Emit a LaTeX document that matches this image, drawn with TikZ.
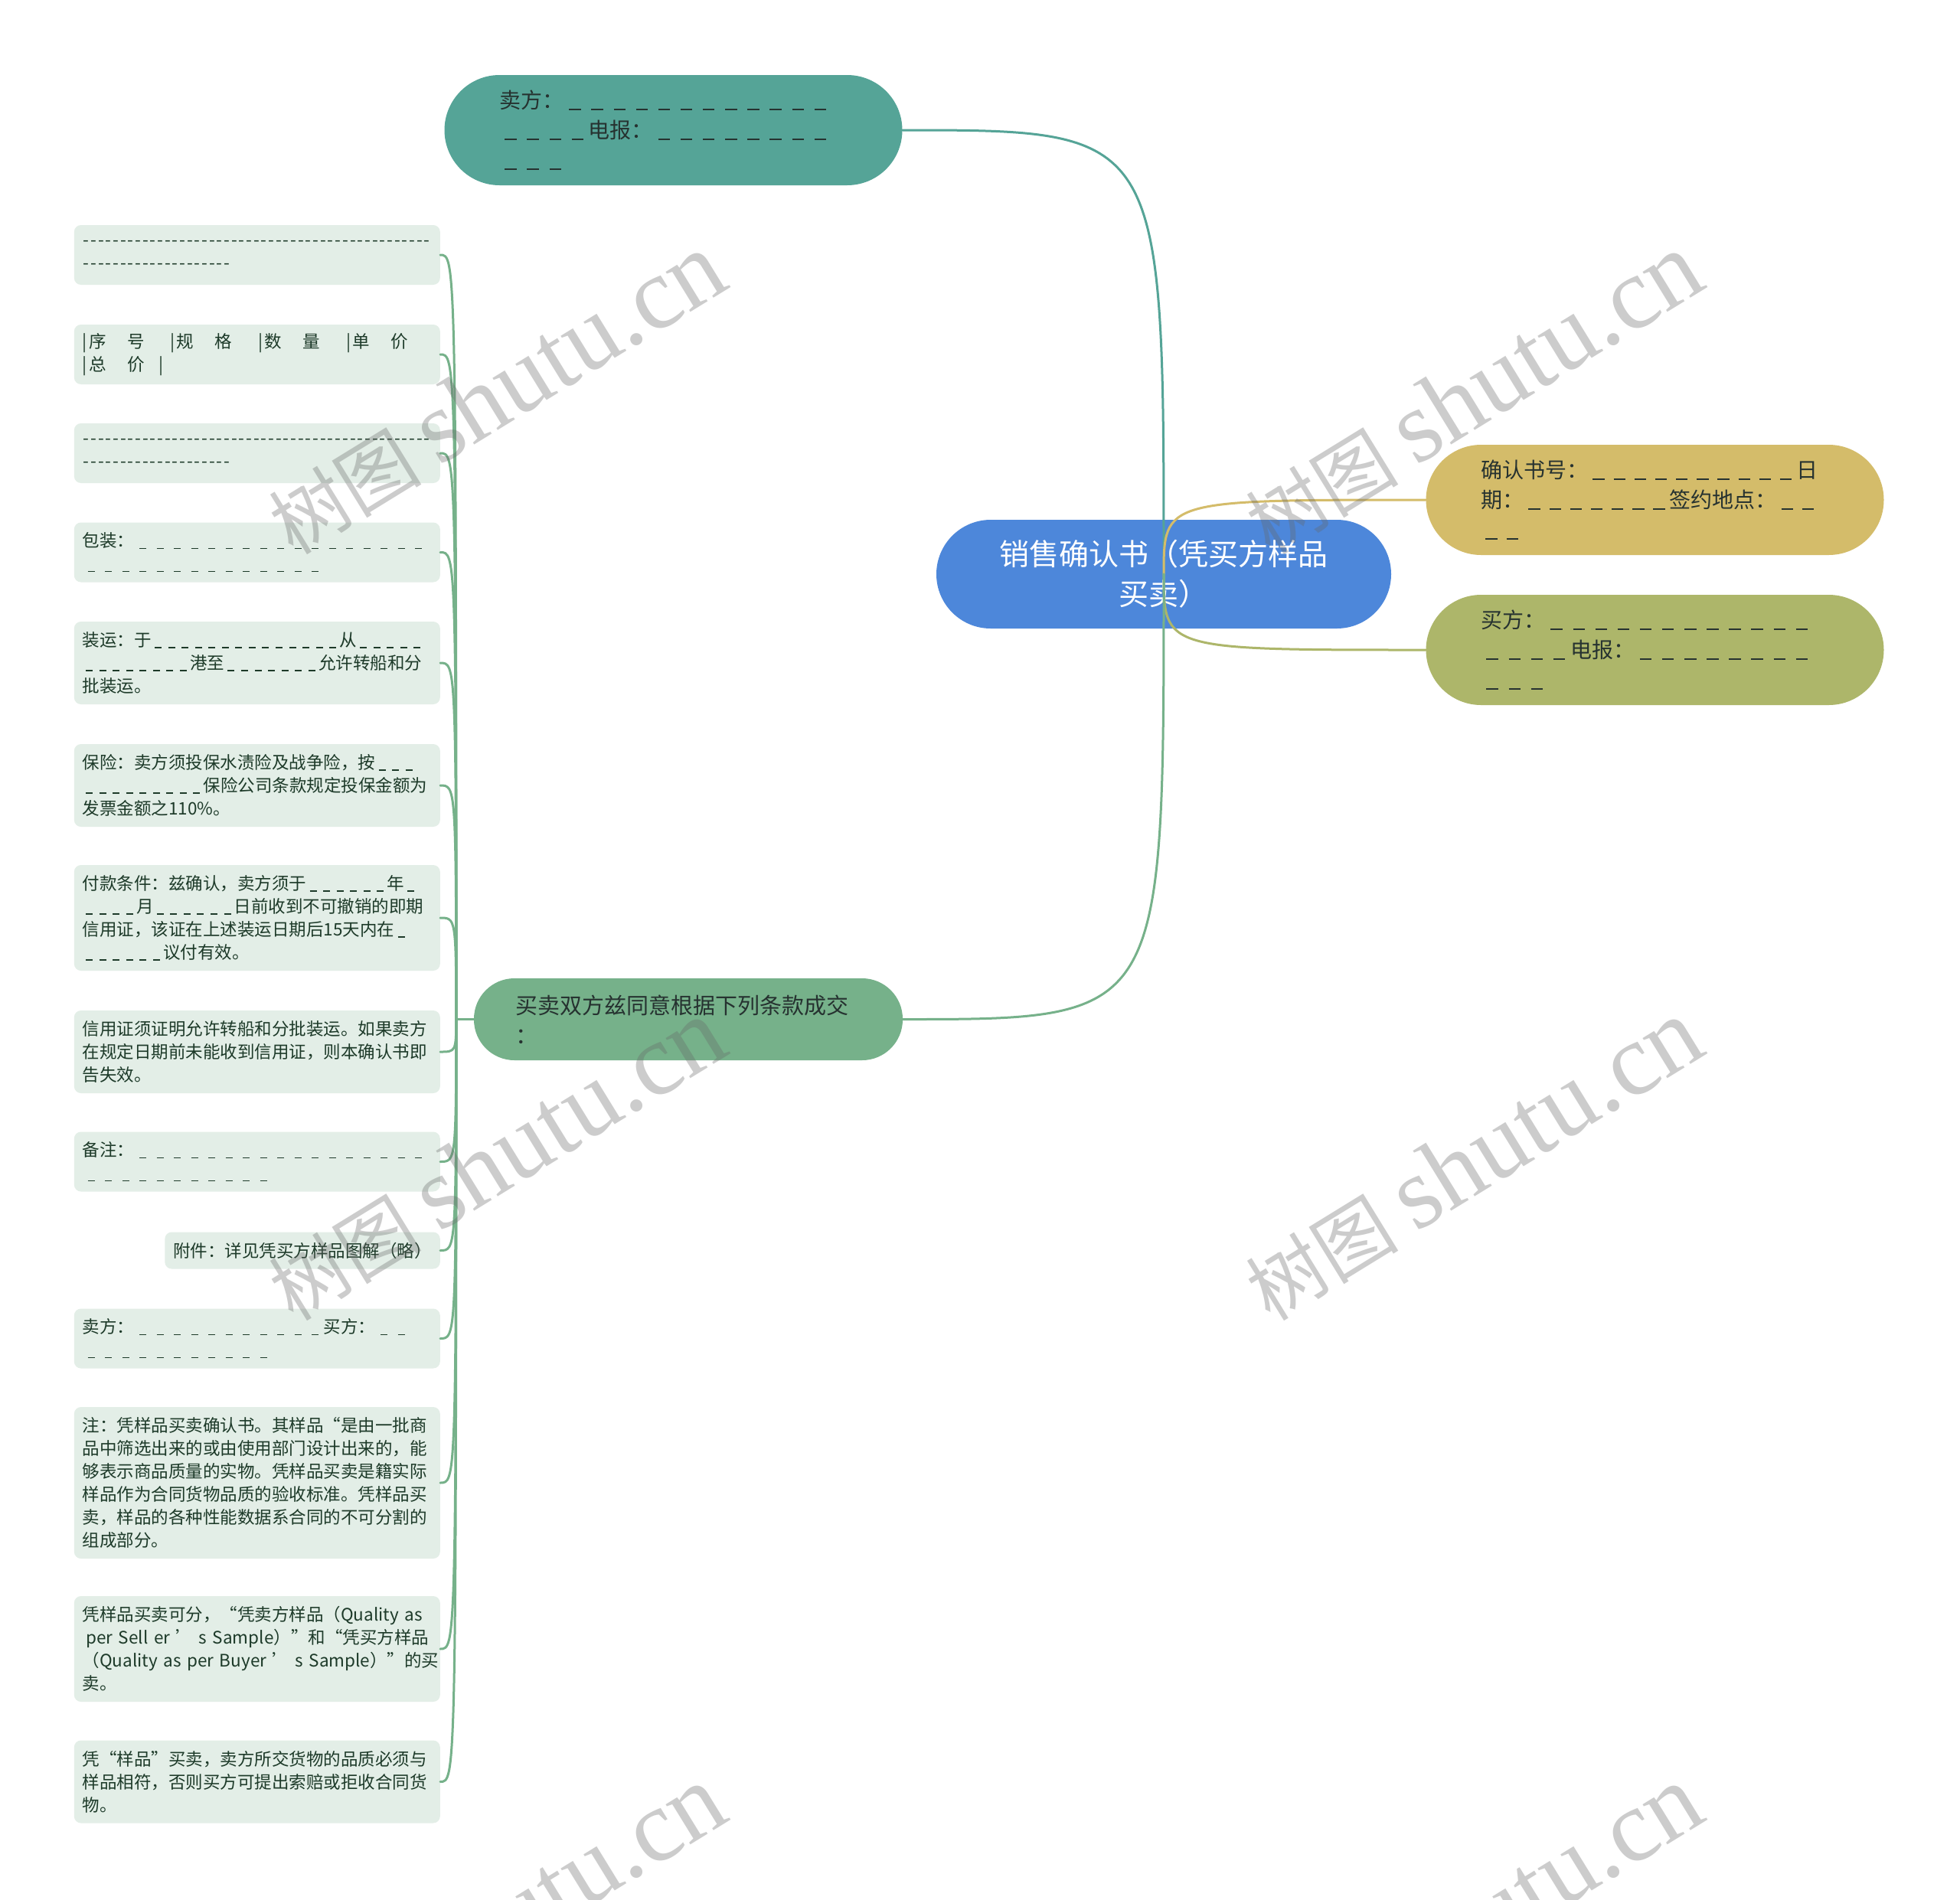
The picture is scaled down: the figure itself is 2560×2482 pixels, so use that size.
\documentclass[tikz,border=0pt]{standalone}
\usepackage{fontspec}
\setmainfont{Noto Sans CJK SC}
\newfontfamily\wmlatin{Liberation Serif}
\definecolor{rootblue}{HTML}{4D87DA}
\definecolor{sellteal}{HTML}{55A497}
\definecolor{confgold}{HTML}{D4BC6A}
\definecolor{buyolive}{HTML}{ADB66A}
\definecolor{termgreen}{HTML}{76B18A}
\definecolor{leafbg}{HTML}{E3EEE7}
\definecolor{leaftext}{HTML}{1D3A29}
\definecolor{darktext}{HTML}{263230}
\def\blanklen{0.4em}
\newcommand{\blanks}[2][1em]{\foreach \nb in {1,...,#2}{\makebox[#1]{\rule[-0.1em]{\blanklen}{0.07em}}}}
\newcommand{\dashrow}[1]{\foreach \nb in {1,...,#1}{\makebox[0.43em]{-}}}
\newcommand{\colbar}{\makebox[0.37em][l]{|}}

\begin{document}
\begin{tikzpicture}[x=1pt,y=-1pt,
rootnode/.style={fill=rootblue, text=white, rounded corners=71, minimum width=594,
    minimum height=142, inner sep=0, align=center, font=\fontsize{39}{52}\selectfont},
topic/.style={rounded corners=72, minimum width=598, minimum height=144, inner sep=0,
    text width=454, align=left, text=darktext, font={\fontsize{28}{39}\selectfont\def\blanklen{0.55em}}},
termsnode/.style={fill=termgreen, rounded corners=53, minimum width=560, minimum height=107,
    inner sep=0, text width=452, align=left, text=darktext, font=\fontsize{29}{39}\selectfont},
leafbox/.style={fill=leafbg, rounded corners=9, inner xsep=11, inner ysep=4, align=left,
    anchor=east, text=leaftext, font=\fontsize{22.5}{30}\selectfont},
fullw/.style={text width=456},
nlines/.style={minimum height={#1*30+18}},
linkline/.style={line width=3, line cap=round},
twig/.style={linkline, draw=termgreen},
watermark/.style={rotate=31.6, text=black!60, text opacity=0.33, font=\fontsize{100}{100}\selectfont}]
\clip (0,0) rectangle (2560,2482);
\fill[white] (0,0) rectangle (2560,2482);

% main topics
\node[rootnode] (root) at (1520,750) {销售确认书（凭买方样品\\买卖）};
\node[topic, fill=sellteal] (seller) at (879.5,170)
  {卖方：\blanks[1.04em]{12}\\\blanks[1.04em]{4}电报：\blanks[1.04em]{8}\\\blanks[1.04em]{3}};
\node[topic, fill=confgold] (conf) at (2161.5,653)
  {确认书号：\blanks[0.97em]{10}日\\期：\blanks[0.97em]{7}签约地点：\blanks[0.97em]{2}\\\blanks[0.97em]{2}};
\node[topic, fill=buyolive] (buyer) at (2161.5,849)
  {买方：\blanks[1.04em]{12}\\\blanks[1.04em]{4}电报：\blanks[1.04em]{8}\\\blanks[1.04em]{3}};
\node[termsnode] (terms) at (899,1331.5) {买卖双方兹同意根据下列条款成交\\：};

% terms
\node[leafbox, fullw, nlines=2] (sep1) at (575,333) {\dashrow{47}\\\dashrow{20}};
\node[leafbox, fullw, nlines=2] (cols) at (575,463)
  {\colbar 序\hspace{1.22em}号\hspace{1.51em}\colbar 规\hspace{1.22em}格\hspace{1.51em}\colbar 数\hspace{1.22em}量\hspace{1.51em}\colbar 单\hspace{1.22em}价\\
   \colbar 总\hspace{1.22em}价\hspace{0.85em}|};
\node[leafbox, fullw, nlines=2] (sep2) at (575,592) {\dashrow{47}\\\dashrow{20}};
\node[leafbox, fullw, nlines=2] (pack) at (575,721.5) {包装：\blanks{17}\\\blanks{14}};
\node[leafbox, fullw, nlines=3] (ship) at (575,866)
  {装运：于\blanks[0.78em]{14}从\blanks[0.78em]{5}\\\blanks[0.78em]{8}港至\blanks[0.78em]{7}允许转船和分\\批装运。};
\node[leafbox, fullw, nlines=3] (insur) at (575,1026)
  {保险：卖方须投保水渍险及战争险，按\blanks[0.78em]{3}\\\blanks[0.78em]{9}保险公司条款规定投保金额为\\发票金额之110\%。};
\node[leafbox, fullw, nlines=4] (pay) at (575,1199)
  {付款条件：兹确认，卖方须于\blanks[0.78em]{6}年\blanks[0.78em]{1}\\\blanks[0.78em]{4}月\blanks[0.78em]{6}日前收到不可撤销的即期\\信用证，该证在上述装运日期后15天内在\blanks[0.78em]{1}\\\blanks[0.78em]{6}议付有效。};
\node[leafbox, fullw, nlines=3] (lc) at (575,1374)
  {信用证须证明允许转船和分批装运。如果卖方\\在规定日期前未能收到信用证，则本确认书即\\告失效。};
\node[leafbox, fullw, nlines=2] (remark) at (575,1517.5) {备注：\blanks{17}\\\blanks{11}};
\node[leafbox, nlines=1] (annex) at (575,1633.5) {附件：详见凭买方样品图解（略）};
\node[leafbox, fullw, nlines=2] (sign) at (575,1748.5) {卖方：\blanks{11}买方：\blanks{2}\\\blanks{11}};
\node[leafbox, fullw, nlines=6] (note) at (575,1937)
  {注：凭样品买卖确认书。其样品“是由一批商\\品中筛选出来的或由使用部门设计出来的，能\\够表示商品质量的实物。凭样品买卖是籍实际\\样品作为合同货物品质的验收标准。凭样品买\\卖，样品的各种性能数据系合同的不可分割的\\组成部分。};
\node[leafbox, fullw, nlines=4] (kinds) at (575,2154)
  {凭样品买卖可分，“凭卖方样品（Quality as\\\mbox{\hspace*{0.2em}per Sell er ’ s Sample）”和“凭买方样品}\\\mbox{（Quality as per Buyer ’ s Sample）”的买}\\卖。};
\node[leafbox, fullw, nlines=3] (rule) at (575,2327.5)
  {凭“样品”买卖，卖方所交货物的品质必须与\\样品相符，否则买方可提出索赔或拒收合同货\\物。};

% connectors
\draw[linkline, draw=sellteal] (root.center) .. controls (root.center |- seller.east) .. (seller.east);
\draw[linkline, draw=confgold] (root.center) .. controls (root.center |- conf.west) .. (conf.west);
\draw[linkline, draw=buyolive] (root.center) .. controls (root.center |- buyer.west) .. (buyer.west);
\draw[linkline, draw=termgreen] (root.center) .. controls (root.center |- terms.east) .. (terms.east);
\path (terms.west) ++(-23,0) coordinate (hub);
\draw[twig] (terms.west) -- (hub);
\foreach \lf in {sep1,cols,sep2,pack,ship,insur,pay,lc,remark,annex,sign,note,kinds,rule}
  \draw[twig] (hub) .. controls (hub |- \lf.east) and +(20,0) .. (\lf.east);

% watermark
\foreach \wx in {648,1924}
  \foreach \wy in {514,1515,2516}
    \node[watermark] at (\wx,\wy) {树图 {\wmlatin\fontsize{134}{134}\selectfont shutu.cn}};
\end{tikzpicture}
\end{document}
